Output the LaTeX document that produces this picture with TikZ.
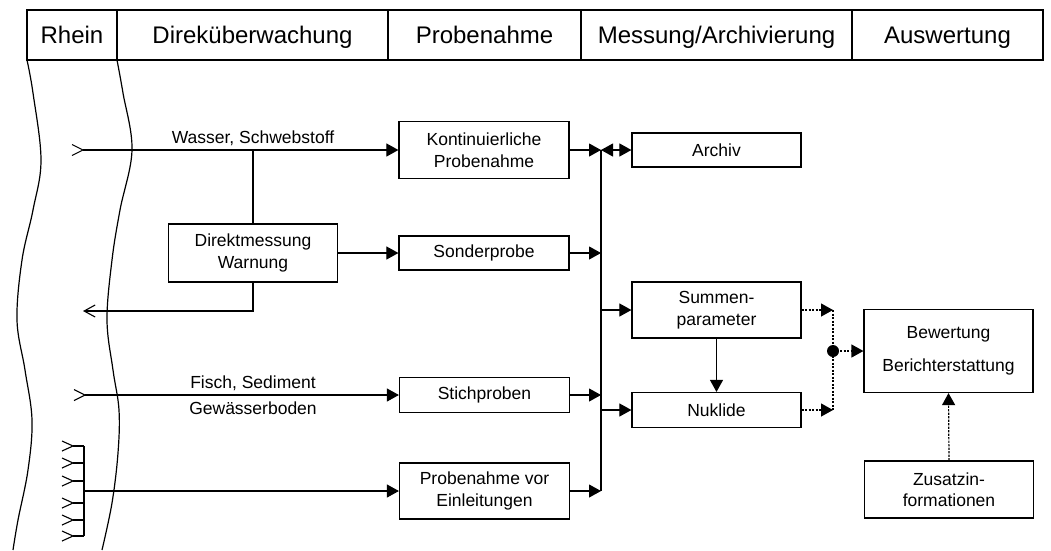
\documentclass[tikz,border=0pt]{standalone}
\usepackage{fontspec}
\setmainfont{Liberation Sans}
\usetikzlibrary{arrows.meta}
\begin{document}
\begin{tikzpicture}[x=1pt,y=-1pt,
  box/.style={draw, line width=1.2pt, align=center, inner sep=0pt,
    font=\fontsize{17.5}{21.5}\selectfont},
  hd/.style={font=\fontsize{24}{26}\selectfont, anchor=base, inner sep=0pt},
  lbl/.style={font=\fontsize{17.5}{20}\selectfont, inner sep=0pt},
  ln/.style={line width=1.1pt},
  tip/.style={-{Triangle[length=12pt,width=13pt]}},
  arr/.style={ln, tip},
  darr/.style={ln, {Triangle[length=12pt,width=13pt]}-{Triangle[length=12pt,width=13pt]}},
  dots/.style={line width=1.2pt, dash pattern=on 2.2pt off 1.3pt},
  oarr/.style={ln, -{Straight Barb[length=11pt,width=12pt,line width=1.1pt]}}
]
\useasboundingbox (0,0) rectangle (1051,550);
\fill[white] (0,0) rectangle (1051,550);

% header
\draw[line width=1.2pt] (27,10) rectangle (1043,60);
\draw[line width=1.2pt] (117,10) -- (117,60) (388,10) -- (388,60) (581,10) -- (581,60) (852,10) -- (852,60);
\node[hd] (h1) at (72,43) {Rhein};
\node[hd] (h2) at (252.5,43) {Direküberwachung};
\node[hd] (h3) at (484.5,43) {Probenahme};
\node[hd] (h4) at (716.5,43) {Messung/Archivierung};
\node[hd] (h5) at (947.5,43) {Auswertung};

% river banks
\draw[line width=1.2pt] plot[smooth, tension=0.6] coordinates {(27,60) (33,93) (41,160) (33,210) (22,260) (17,320) (25,370) (32,420) (28,470) (18,520) (13,550)};
\draw[line width=1.2pt] plot[smooth, tension=0.6] coordinates {(117,60) (123,93) (132,150) (120,210) (112,260) (107,320) (113,370) (119,410) (118,453) (112,503) (102,550)};

% boxes
\node[box, minimum width=170, minimum height=57] (K) at (484,150) {Kontinuierliche\\Probenahme};
\node[box, minimum width=170, minimum height=34] (S) at (484,253) {Sonderprobe};
\node[box, minimum width=170, minimum height=35] (St) at (484.5,395) {Stichproben};
\node[box, minimum width=170, minimum height=56] (P) at (484.5,491) {Probenahme vor\\Einleitungen};
\node[box, minimum width=169, minimum height=58] (D) at (253,253) {Direktmessung\\Warnung};
\node[box, minimum width=169, minimum height=34] (A) at (716.5,150) {Archiv};
\node[box, minimum width=169, minimum height=56] (Su) at (716.5,310) {Summen-\\parameter};
\node[box, minimum width=169, minimum height=35] (N) at (716.5,410) {Nuklide};
\node[box, minimum width=169, minimum height=83] (B) at (948.5,351) {Bewertung\\[12pt]Berichterstattung};
\node[box, minimum width=169, minimum height=57] (Z) at (949,489.5) {Zusatzin-\\formationen};

% inflow: Wasser, Schwebstoff
\coordinate (w0) at (83,150);
\draw[ln] (72,144.5) -- (w0) -- (72,155.5);
\draw[arr] (w0) -- (K.west);
\node[lbl] (wl) at (253,138) {Wasser, Schwebstoff};
\coordinate (wj) at (253,150);
\draw[ln] (wj) -- (D.north);
\draw[arr] (D.east) -- (S.west);
\coordinate (out) at (83,311);
\draw[oarr] (D.south) |- (out);

% inflow: Fisch, Sediment
\coordinate (f0) at (85,395);
\draw[ln] (74,389.5) -- (f0) -- (74,400.5);
\draw[arr] (f0) -- (St.west);
\node[lbl] (fl1) at (253,383) {Fisch, Sediment};
\node[lbl] (fl2) at (253,408) {Gewässerboden};

% comb of inlets
\coordinate (c0) at (84,446);
\coordinate (c1) at (84,536);
\coordinate (cm) at (84,491);
\draw[ln] (c0) -- (c1);
\foreach \yy in {446,463,481,503,520,536}{
  \draw[ln] (62,\yy-5) -- (73,\yy) -- (62,\yy+5);
  \draw[ln] (73,\yy) -- (84,\yy);
}
\draw[arr] (cm) -- (P.west);

% bus
\coordinate (bt) at (601,150);
\coordinate (bb) at (601,491);
\draw[ln] (bt) -- (bb);
\draw[arr] (K.east) -- (K.east -| bt);
\draw[arr] (S.east) -- (S.east -| bt);
\draw[arr] (St.east) -- (St.east -| bt);
\draw[arr] (P.east) -- (P.east -| bt);
\draw[darr] (bt) -- (A.west);
\draw[arr] (bt |- Su.west) -- (Su.west);
\draw[arr] (bt |- N.west) -- (N.west);
\draw[arr] (Su.south) -- (N.north);

% evaluation
\coordinate (dj) at (833,351);
\draw[dots] (Su.east -| dj) -- (N.east -| dj);
\draw[dots, tip] (Su.east) -- (Su.east -| dj);
\draw[dots, tip] (N.east) -- (N.east -| dj);
\draw[dots, tip] (dj) -- (B.west);
\fill (dj) circle (6);
\draw[dots, tip] (Z.north) -- (B.south);
\end{tikzpicture}
\end{document}
